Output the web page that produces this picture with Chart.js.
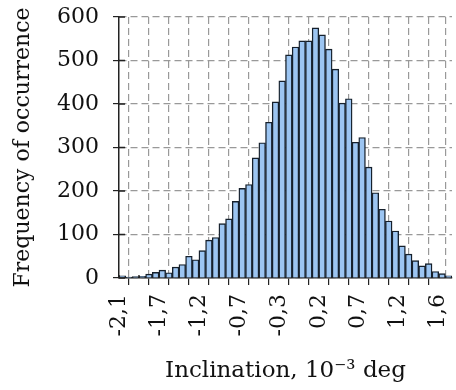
<!DOCTYPE html>
<html>
<head>
<meta charset="utf-8">
<script src="https://cdn.jsdelivr.net/npm/chart.js@4"></script>
<style>
  html, body { margin: 0; padding: 0; background: #fff; }
  #wrap { width: 456px; height: 390px; }
</style>
</head>
<body>
<div id="wrap"><canvas id="histChart"></canvas></div>
<script>
// histogram counts, one per bin, left to right
const counts = [5, 2, 3, 4, 9, 13, 18, 12, 25, 31, 50, 42, 63, 87, 93, 125, 136, 176, 206, 215,
  276, 311, 358, 405, 453, 513, 531, 545, 545, 575, 559, 526, 480, 402, 412, 312, 323, 255, 196, 158,
  131, 108, 74, 55, 40, 28, 33, 15, 10, 5];
// labels shown every 6 bins
const tickLabels = ["-2,1", "-1,7", "-1,2", "-0,7", "-0,3", "0,2", "0,7", "1,2", "1,6"];
const binsPerTick = 3;
const binsPerLabel = 6;
const yMax = 600;
const yStep = 100;

const serif = "'DejaVu Serif', serif";
const gridDash = [7, 4];

// short tick marks on the inner side of both axes
const innerTicks = {
  id: "innerTicks",
  afterDraw: chart => {
    const { ctx, chartArea, scales } = chart;
    ctx.save();
    ctx.strokeStyle = "#222";
    ctx.lineWidth = 1.4;
    ctx.beginPath();
    scales.y.ticks.forEach(t => {
      const py = scales.y.getPixelForValue(t.value);
      ctx.moveTo(chartArea.left, py);
      ctx.lineTo(chartArea.left + 6, py);
    });
    scales.x.ticks.forEach(t => {
      if (t.value >= counts.length) return;
      const px = scales.x.getPixelForValue(t.value);
      ctx.moveTo(px, chartArea.bottom);
      ctx.lineTo(px, chartArea.bottom - 3);
    });
    ctx.stroke();
    ctx.restore();
  }
};

document.addEventListener("DOMContentLoaded", function () {
  const points = counts.map((c, i) => ({ x: i + 0.5, y: c }));

  const xTickValues = [];
  for (let v = 0; v <= (tickLabels.length - 1) * binsPerLabel; v += binsPerTick) xTickValues.push(v);
  xTickValues.push(counts.length); // right edge of the plot, grid line only

  const ctx = document.getElementById("histChart").getContext("2d");
  new Chart(ctx, {
    type: "bar",
    plugins: [innerTicks],
    data: {
      datasets: [{
        data: points,
        backgroundColor: "#9cc5f2",
        borderColor: "#16202c",
        borderWidth: 1.4,
        barPercentage: 1,
        categoryPercentage: 1
      }]
    },
    options: {
      responsive: true,
      maintainAspectRatio: false,
      animation: false,
      layout: { padding: { top: 17, right: 4, left: 0, bottom: 0 } },
      plugins: { legend: { display: false }, tooltip: { enabled: false } },
      scales: {
        x: {
          type: "linear",
          min: 0,
          max: counts.length,
          offset: false,
          afterBuildTicks: function (scale) {
            scale.ticks = xTickValues.map(v => ({ value: v }));
          },
          afterFit: function (scale) {
            scale.height = 112;
            scale.paddingLeft = 0;
            scale.paddingRight = 0;
          },
          ticks: {
            autoSkip: false,
            minRotation: 90,
            maxRotation: 90,
            padding: 9,
            color: "#111",
            font: { family: serif, size: 22 },
            callback: function (v) {
              return v % binsPerLabel === 0 && v < counts.length ? tickLabels[v / binsPerLabel] : "";
            }
          },
          grid: {
            color: "#999",
            lineWidth: 1.2,
            tickLength: 7,
            tickColor: c => (c.tick && c.tick.value === counts.length ? "rgba(0,0,0,0)" : "#222")
          },
          border: { color: "#222", width: 1.5, dash: gridDash },
          title: {
            display: true,
            text: "Inclination, 10⁻³ deg",
            color: "#111",
            font: { family: serif, size: 23 },
            padding: { top: 4, bottom: 5 }
          }
        },
        y: {
          min: 0,
          max: yMax,
          afterFit: function (scale) {
            scale.width = 119;
            scale.paddingTop = 0;
            scale.paddingBottom = 0;
          },
          ticks: {
            stepSize: yStep,
            padding: 14,
            color: "#111",
            font: { family: serif, size: 22 }
          },
          grid: {
            color: "#999",
            lineWidth: 1.2,
            tickLength: 6,
            tickColor: "#222"
          },
          border: { color: "#222", width: 1.5, dash: gridDash },
          title: {
            display: true,
            text: "Frequency of occurrence",
            color: "#111",
            font: { family: serif, size: 22 },
            padding: { top: 10, bottom: 0 }
          }
        }
      }
    }
  });
});
</script>
</body>
</html>
